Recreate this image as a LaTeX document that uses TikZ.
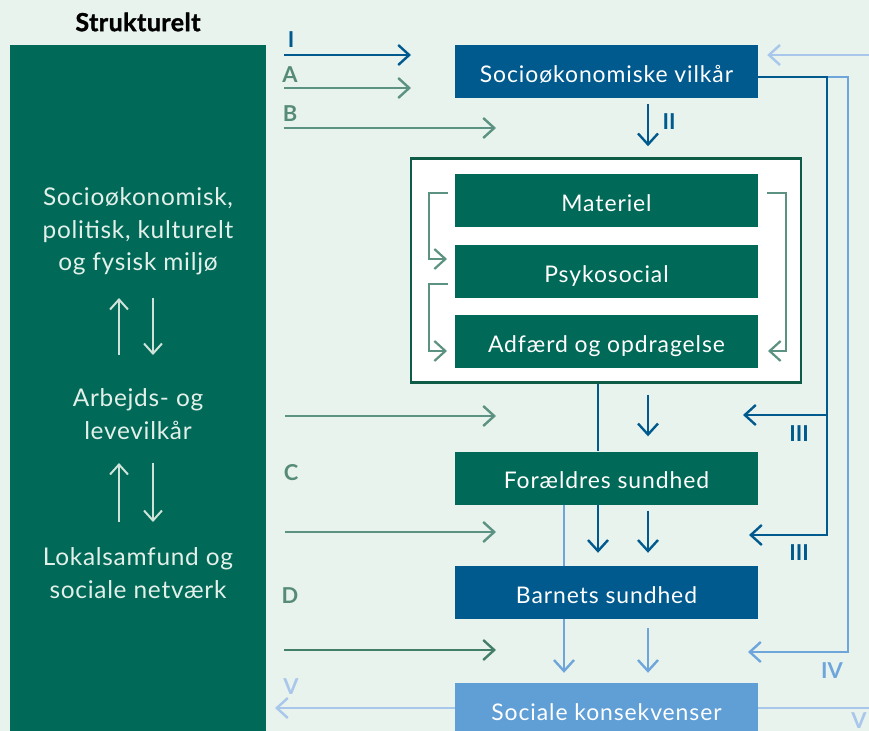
\documentclass[tikz,border=0pt]{standalone}
\usepackage{fontspec}
\setmainfont{Lato}
\usetikzlibrary{arrows.meta,calc}
\definecolor{bg}{HTML}{E9F3EE}
\definecolor{panel}{HTML}{006957}
\definecolor{dblue}{HTML}{005A8E}
\definecolor{lbox}{HTML}{5F9FD6}
\definecolor{gline}{HTML}{5B9282}
\definecolor{gdark}{HTML}{437E69}
\definecolor{glabel}{HTML}{568C77}
\definecolor{pale}{HTML}{A8C7EA}
\definecolor{mid}{HTML}{6EA6DB}
\definecolor{frameb}{HTML}{0E5B48}
\definecolor{ptext}{HTML}{E3F0EA}
\definecolor{parrow}{HTML}{D0E3DA}
\tikzset{
  chev/.tip={Straight Barb[length=11bp,width=20bp]},
  box/.style={minimum width=303bp, minimum height=53bp, inner sep=0pt, text=white,
    text height=23bp, text depth=1.5bp,
    font=\fontsize{23}{27}\selectfont\addfontfeature{LetterSpace=4}},
  lab/.style={font=\fontsize{22}{26}\bfseries, inner sep=0pt},
  ptxt/.style={text=ptext, align=center, inner sep=0pt, font=\fontsize{24.5}{32.5}\selectfont\addfontfeature{LetterSpace=3}},
  conn/.style={line width=2.4bp, -{chev}},
  parr/.style={line width=2bp, draw=parrow, -{Straight Barb[length=10bp,width=18bp]}},
}
\begin{document}
\begin{tikzpicture}[x=1bp,y=-1bp]
\useasboundingbox (0,0) rectangle (869,731);
\fill[bg] (0,0) rectangle (869,731);

% left panel
\node[fill=panel, minimum width=256bp, minimum height=700bp, inner sep=0pt] (panel) at (138,395) {};
\node[font=\fontsize{25}{28}\bfseries\addfontfeature{FakeBold=1.5,LetterSpace=2}, inner sep=0pt] (title) at (138,22) {Strukturelt};
\node[ptxt] (t1) at (138,231.5) {Socioøkonomisk,\\politisk, kulturelt\\og fysisk miljø};
\node[ptxt] (t2) at (138,414) {Arbejds- og\\levevilkår};
\node[ptxt] (t3) at (138,573) {Lokalsamfund og\\sociale netværk};
\coordinate (ua1) at (119,355); \coordinate (ua2) at (119,298);
\coordinate (da1) at (153,298); \coordinate (da2) at (153,355);
\coordinate (ub1) at (119,522); \coordinate (ub2) at (119,463);
\coordinate (db1) at (153,463); \coordinate (db2) at (153,522);
\draw[parr] (ua1) -- (ua2);
\draw[parr] (da1) -- (da2);
\draw[parr] (ub1) -- (ub2);
\draw[parr] (db1) -- (db2);

% main boxes
\node[box, fill=dblue] (socio) at (606.5,71.5) {Socioøkonomiske vilkår};
\node[draw=frameb, line width=2.5bp, fill=white, minimum width=390bp, minimum height=224bp, inner sep=0pt] (frame) at (606,270.5) {};
\node[box, fill=panel] (mat) at (606.5,200.5) {Materiel};
\node[box, fill=panel] (psy) at (606.5,271.5) {Psykosocial};
\node[box, fill=panel] (adf) at (606.5,341.5) {Adfærd og opdragelse};
\node[box, fill=panel] (fs) at (606.5,478) {Forældres sundhed};
\node[box, fill=dblue] (bs) at (606.5,592.5) {Barnets sundhed};
\node[box, fill=lbox] (sk) at (606.5,709.5) {Sociale konsekvenser};

% left-side incoming arrows
\coordinate (sI) at (284,55);  \coordinate (eI) at (411,55);
\coordinate (sA) at (284,88);  \coordinate (eA) at (411,88);
\coordinate (sB) at (284,128); \coordinate (eB) at (496,128);
\coordinate (sC1) at (285,416); \coordinate (eC1) at (496,416);
\coordinate (sC2) at (285,532); \coordinate (eC2) at (496,532);
\coordinate (sD) at (284,650); \coordinate (eD) at (496,650);
\draw[conn, dblue] (sI) -- (eI);
\draw[conn, gline] (sA) -- (eA);
\draw[conn, gline] (sB) -- (eB);
\draw[conn, gline] (sC1) -- (eC1);
\draw[conn, gline] (sC2) -- (eC2);
\draw[conn, gdark] (sD) -- (eD);
\node[lab, text=dblue] (lI) at (291,40) {I};
\node[lab, text=glabel] (lA) at (290,75) {A};
\node[lab, text=glabel] (lB) at (290,114) {B};
\node[lab, text=glabel] (lC) at (291,473) {C};
\node[lab, text=glabel] (lD) at (290,596) {D};

% II
\coordinate (x648) at (648,0);
\coordinate (x598) at (598,0);
\coordinate (x564) at (564,0);
\draw[conn, dblue, shorten <=6bp, shorten >=11bp] (socio.south -| x648) -- (frame.north -| x648);
\node[lab, text=dblue] (lII) at (669,122) {II};

% frame internal brackets
\coordinate (bl1a) at (448,193); \coordinate (bl1b) at (429,193); \coordinate (bl1c) at (429,259); \coordinate (bl1d) at (447,259);
\coordinate (bl2a) at (448,284); \coordinate (bl2b) at (429,284); \coordinate (bl2c) at (429,351); \coordinate (bl2d) at (447,351);
\coordinate (br1a) at (767,193); \coordinate (br1b) at (786,193); \coordinate (br1c) at (786,351); \coordinate (br1d) at (768,351);
\draw[conn, gline, line width=2.2bp] (bl1a) -- (bl1b) -- (bl1c) -- (bl1d);
\draw[conn, gline, line width=2.2bp] (bl2a) -- (bl2b) -- (bl2c) -- (bl2d);
\draw[conn, gline, line width=2.2bp] (br1a) -- (br1b) -- (br1c) -- (br1d);

% frame to parents
\draw[dblue, line width=2.4bp] (frame.south -| x598) -- (fs.north -| x598);
\draw[conn, dblue, shorten <=11bp, shorten >=15bp] (frame.south -| x648) -- (fs.north -| x648);

% parents to child
\draw[mid, line width=2.4bp] (fs.south -| x564) -- (bs.north -| x564);
\draw[conn, dblue, shorten >=13bp] (fs.south -| x598) -- (bs.north -| x598);
\draw[conn, dblue, shorten <=6bp, shorten >=13bp] (fs.south -| x648) -- (bs.north -| x648);

% child to social
\draw[conn, mid, shorten >=10bp] (bs.south -| x564) -- (sk.north -| x564);
\draw[conn, mid, shorten <=9bp, shorten >=10bp] (bs.south -| x648) -- (sk.north -| x648);

% right side feedback
\coordinate (rt) at (869,55);
\draw[conn, pale, shorten >=9bp] (rt) -- (socio.east |- rt);
\coordinate (sout) at ($(socio.east)+(0,5.5)$);
\coordinate (iv1) at (848,652); \coordinate (iv2) at (748,652);
\draw[conn, mid] (sout) -| (iv1) -- (iv2);
\coordinate (iii0) at (827,415); \coordinate (iii1) at (827,535); \coordinate (iii2) at (749,535); \coordinate (iii3) at (743,415);
\draw[conn, dblue, line join=miter] (sout) -| (iii1) -- (iii2);
\draw[conn, dblue] (iii0) -- (iii3);
\node[lab, text=dblue] (l31) at (799,434) {III};
\node[lab, text=dblue] (l32) at (799,553) {III};
\node[lab, text=mid] (lIV) at (832,671) {IV};

% V
\coordinate (vl) at (275,708); \coordinate (vr) at (869,708);
\draw[conn, pale] (sk.west |- vl) -- (vl);
\draw[pale, line width=2.4bp] (sk.east |- vr) -- (vr);
\node[lab, text=pale] (lV1) at (291,687) {V};
\node[lab, text=pale] (lV2) at (859,721) {V};
\end{tikzpicture}
\end{document}
